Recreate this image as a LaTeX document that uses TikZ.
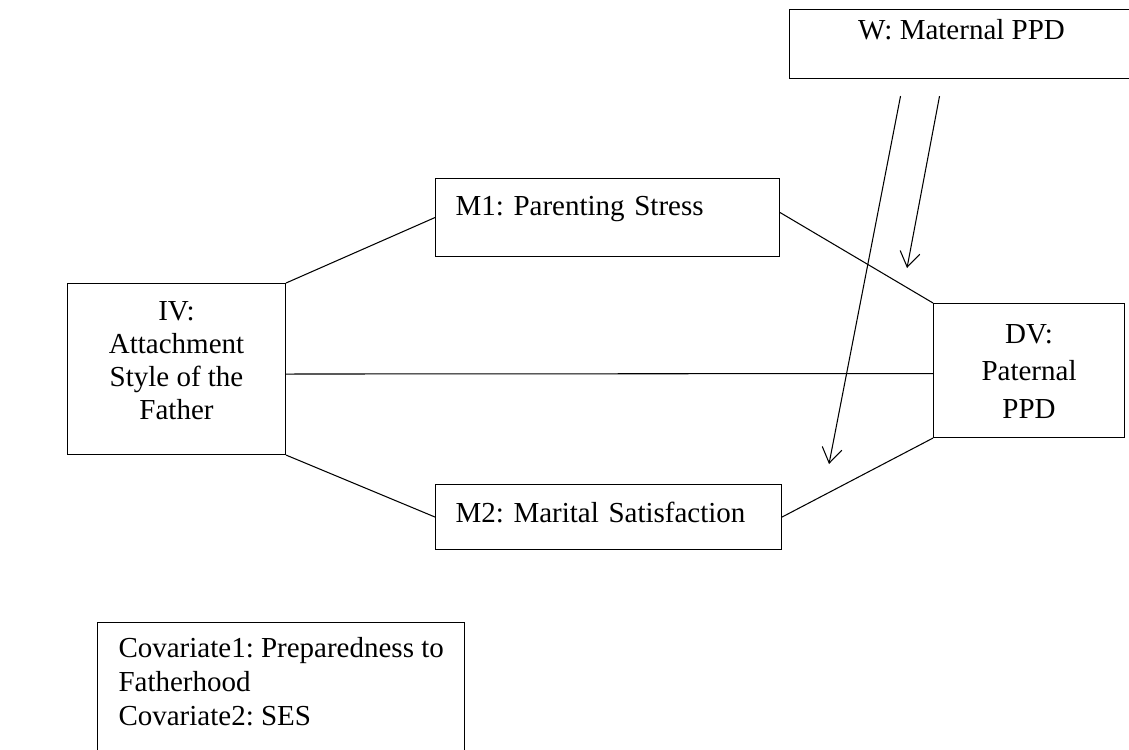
\documentclass[tikz,border=0pt]{standalone}
\usepackage{fontspec}
\setmainfont{Liberation Serif}
\usetikzlibrary{arrows.meta}
\frenchspacing

\tikzset{
  varbox/.style={draw, line width=0.6pt, anchor=north west, inner xsep=0pt, inner ysep=0pt,
    font=\fontsize{16.5}{18.7}\selectfont},
  path/.style={line width=0.6pt},
  modarrow/.style={line width=0.6pt, -{Straight Barb[length=0.3cm, width=0.4cm, line width=0.6pt]}}
}

\begin{document}
\begin{tikzpicture}
    \useasboundingbox (0,0) rectangle (22.58,-14.98);
    % variables
    \node[varbox, minimum width=6.88cm, text height=0.6cm, text depth=0.78cm] (w) at (15.78,-0.18) {W: Maternal PPD};
    \node[varbox, inner xsep=0.4cm, text width=6.08cm, align=left, text height=0.74cm, text depth=0.82cm] (m1) at (8.70,-3.56) {M1: Parenting Stress};
    \node[varbox, inner xsep=0.4cm, text width=6.12cm, align=left, text height=0.76cm, text depth=0.54cm] (m2) at (8.70,-9.68) {M2: Marital Satisfaction};
    \node[varbox, minimum width=4.36cm, text height=0.74cm, text depth=2.68cm] (iv) at (1.34,-5.66)
        {\begin{tabular}[t]{@{}c@{}}IV:\\Attachment\\Style of the\\Father\end{tabular}};
    \node[varbox, minimum width=3.82cm, text height=0.8cm, text depth=1.88cm, font=\fontsize{16.5}{21.3}\selectfont] (dv) at (18.66,-6.06)
        {\begin{tabular}[t]{@{}c@{}}DV:\\Paternal\\PPD\end{tabular}};
    \node[varbox, inner xsep=0.42cm, text height=0.7cm, text depth=2.06cm, font=\fontsize{16.5}{19.3}\selectfont] (cov) at (1.94,-12.44)
        {\begin{tabular}[t]{@{}l@{}}Covariate1: Preparedness to\\Fatherhood\\Covariate2: SES\end{tabular}};

    % paths
    \draw[path] (iv.north east) -- (m1.west);
    \draw[path] ([yshift=1mm]m1.east) -- (dv.north west);
    \draw[path] ([yshift=-1mm]iv.east) -- ([yshift=-0.6mm]dv.west);
    \draw[path] (iv.south east) -- (m2.west);
    \draw[path] (m2.east) -- (dv.south west);

    % moderation by W
    \coordinate (wa) at ([shift={(-1.22,-0.34)}]w.south);
    \coordinate (wb) at ([shift={(-0.44,-0.34)}]w.south);
    \coordinate (tipa) at (16.58,-9.28);
    \coordinate (tipb) at (18.14,-5.36);
    \draw[modarrow] (wa) -- (tipa);
    \draw[modarrow] (wb) -- (tipb);
\end{tikzpicture}
\end{document}
